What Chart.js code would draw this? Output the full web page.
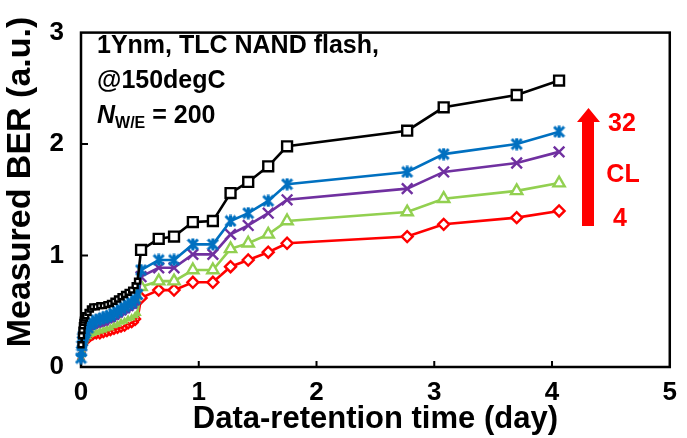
<!DOCTYPE html>
<html>
<head>
<meta charset="utf-8">
<script src="https://cdn.jsdelivr.net/npm/chart.js@4.4.1/dist/chart.umd.min.js"></script>
<style>
  html, body { margin: 0; padding: 0; background: #fff; }
</style>
</head>
<body>
<canvas id="ber-chart" width="687" height="438"></canvas>
<script>
// data-retention time (day), dense early readings then the later bake points
const days = [0, 0.004, 0.008, 0.012, 0.016, 0.02, 0.03, 0.04, 0.06, 0.08, 0.1, 0.13,
  0.16, 0.19, 0.22, 0.25, 0.28, 0.31, 0.34, 0.37, 0.4, 0.43, 0.46, 0.48,
  0.51, 0.66, 0.79, 0.95, 1.12, 1.27, 1.42, 1.59, 1.75, 2.77, 3.08, 3.70, 4.06];

// measured BER (a.u.) per curve
const berBlack = [0.20, 0.28, 0.33, 0.37, 0.40, 0.42, 0.44, 0.46, 0.49, 0.52, 0.54, 0.54,
  0.55, 0.55, 0.56, 0.57, 0.59, 0.61, 0.63, 0.65, 0.67, 0.69, 0.73, 0.77,
  1.05, 1.15, 1.17, 1.30, 1.31, 1.56, 1.66, 1.80, 1.98, 2.12, 2.33, 2.44, 2.57];
const berBlue = [0.08, 0.14, 0.19, 0.23, 0.26, 0.28, 0.30, 0.32, 0.35, 0.38, 0.40, 0.42,
  0.43, 0.44, 0.45, 0.46, 0.48, 0.50, 0.52, 0.54, 0.56, 0.58, 0.61, 0.65,
  0.87, 0.96, 0.96, 1.10, 1.10, 1.31, 1.38, 1.49, 1.64, 1.75, 1.91, 2.00, 2.11];
const berPurple = [0.08, 0.12, 0.16, 0.19, 0.22, 0.24, 0.26, 0.28, 0.31, 0.33, 0.35, 0.36,
  0.37, 0.38, 0.39, 0.41, 0.42, 0.44, 0.46, 0.48, 0.50, 0.52, 0.54, 0.57,
  0.81, 0.89, 0.89, 1.01, 1.01, 1.19, 1.27, 1.38, 1.50, 1.60, 1.75, 1.83, 1.93];
const berGreen = [0.08, 0.11, 0.14, 0.17, 0.19, 0.21, 0.23, 0.25, 0.27, 0.29, 0.30, 0.31,
  0.32, 0.33, 0.34, 0.35, 0.37, 0.38, 0.40, 0.41, 0.43, 0.44, 0.46, 0.48,
  0.72, 0.77, 0.77, 0.87, 0.87, 1.06, 1.11, 1.19, 1.31, 1.39, 1.51, 1.58, 1.65];
const berRed = [0.07, 0.10, 0.13, 0.15, 0.17, 0.19, 0.21, 0.22, 0.24, 0.26, 0.27, 0.28,
  0.28, 0.29, 0.30, 0.31, 0.32, 0.33, 0.34, 0.35, 0.37, 0.38, 0.40, 0.43,
  0.62, 0.69, 0.69, 0.76, 0.76, 0.90, 0.96, 1.03, 1.11, 1.17, 1.28, 1.34, 1.40];

const xTicks = [0, 1, 2, 3, 4, 5];
const yTicks = [0, 1, 2, 3];

const FONT = "'Liberation Sans', Arial, sans-serif";
Chart.defaults.font.family = FONT;
Chart.defaults.color = '#000';

// excel-like "star" marker: X with a vertical bar
function starMarker(color, size) {
  const c = document.createElement('canvas');
  c.width = size; c.height = size;
  const g = c.getContext('2d');
  g.strokeStyle = color;
  g.lineWidth = 3;
  g.beginPath();
  g.moveTo(1.5, 1.5); g.lineTo(size - 1.5, size - 1.5);
  g.moveTo(size - 1.5, 1.5); g.lineTo(1.5, size - 1.5);
  g.moveTo(size / 2, 0.5); g.lineTo(size / 2, size - 0.5);
  g.stroke();
  return c;
}

function series(values, color, style, small, big, fill) {
  return {
    data: days.map((d, i) => ({ x: d, y: values[i] })),
    borderColor: color,
    borderWidth: 2.6,
    pointStyle: style,
    pointBorderColor: color,
    pointBackgroundColor: fill,
    pointBorderWidth: 2.4,
    pointRadius: ctx => days[ctx.dataIndex] < 0.5 ? small : big,
    clip: false,
    tension: 0
  };
}

const frameAndNotes = {
  id: 'frameAndNotes',
  beforeDatasetsDraw(chart) {
    const { ctx, chartArea: a, scales } = chart;
    ctx.save();
    ctx.strokeStyle = '#000';
    ctx.lineWidth = 2.5;
    ctx.strokeRect(a.left, a.top, a.right - a.left, a.bottom - a.top);
    ctx.lineWidth = 2;
    ctx.beginPath();
    xTicks.slice(1, -1).forEach(v => {
      const px = scales.x.getPixelForValue(v);
      ctx.moveTo(px, a.bottom); ctx.lineTo(px, a.bottom - 6);
    });
    yTicks.slice(1, -1).forEach(v => {
      const py = scales.y.getPixelForValue(v);
      ctx.moveTo(a.left, py); ctx.lineTo(a.left + 7, py);
    });
    ctx.stroke();

    // y axis title
    ctx.save();
    ctx.translate(21, 182);
    ctx.rotate(-Math.PI / 2);
    ctx.fillStyle = '#000';
    ctx.textAlign = 'center';
    ctx.textBaseline = 'middle';
    ctx.font = 'bold 34px ' + FONT;
    ctx.fillText('Measured BER (a.u.)', 0, 0);
    ctx.restore();
    ctx.restore();
  },
  afterDraw(chart) {
    const ctx = chart.ctx;
    ctx.save();
    ctx.fillStyle = '#000';
    ctx.textAlign = 'left';
    ctx.textBaseline = 'alphabetic';
    ctx.font = 'bold 25px ' + FONT;
    ctx.fillText('1Ynm, TLC NAND flash,', 97, 53);
    ctx.fillText('@150degC', 97, 88);
    ctx.font = 'italic bold 25px ' + FONT;
    ctx.fillText('N', 97, 123);
    let x = 97 + ctx.measureText('N').width;
    ctx.font = 'bold 16px ' + FONT;
    ctx.fillText('W/E', x, 128);
    x += ctx.measureText('W/E').width;
    ctx.font = 'bold 25px ' + FONT;
    ctx.fillText(' = 200', x, 123);

    // red arrow: CL 4 -> 32
    ctx.fillStyle = '#FF0000';
    ctx.beginPath();
    ctx.moveTo(582, 226);
    ctx.lineTo(594, 226);
    ctx.lineTo(594, 122);
    ctx.lineTo(600, 122);
    ctx.lineTo(588.5, 108);
    ctx.lineTo(577, 122);
    ctx.lineTo(582, 122);
    ctx.closePath();
    ctx.fill();
    ctx.textAlign = 'center';
    ctx.font = 'bold 25px ' + FONT;
    ctx.fillText('32', 622, 131);
    ctx.fillText('CL', 623, 182);
    ctx.fillText('4', 620, 226);
    ctx.restore();
  }
};

new Chart(document.getElementById('ber-chart'), {
  type: 'line',
  data: {
    datasets: [
      series(berBlack, '#000000', 'rect', 3.5, 7, '#ffffff'),
      series(berBlue, '#0070C0', starMarker('#0070C0', 13), 6, 6, '#0070C0'),
      series(berPurple, '#7030A0', 'crossRot', 2.5, 7.5, '#7030A0'),
      series(berGreen, '#92D050', 'triangle', 2.5, 6.5, '#ffffff'),
      series(berRed, '#FF0000', 'rectRot', 2.5, 5.5, '#ffffff')
    ]
  },
  options: {
    responsive: false,
    animation: false,
    layout: { padding: { top: 16, right: 16, left: 0, bottom: 0 } },
    plugins: { legend: { display: false }, tooltip: { enabled: false } },
    scales: {
      x: {
        type: 'linear',
        min: xTicks[0],
        max: xTicks[xTicks.length - 1],
        ticks: { stepSize: 1, padding: 10, font: { size: 26, weight: 'bold' } },
        grid: { display: false, drawTicks: false },
        border: { display: false },
        title: { display: true, text: 'Data-retention time (day)', padding: 0,
                 font: { size: 31, weight: 'bold' } },
        afterFit: s => { s.height = 71; }
      },
      y: {
        min: yTicks[0],
        max: yTicks[yTicks.length - 1],
        ticks: { stepSize: 1, padding: 17, font: { size: 26, weight: 'bold' } },
        grid: { display: false, drawTicks: false },
        border: { display: false },
        afterFit: s => { s.width = 81; }
      }
    }
  },
  plugins: [frameAndNotes]
});
</script>
</body>
</html>
